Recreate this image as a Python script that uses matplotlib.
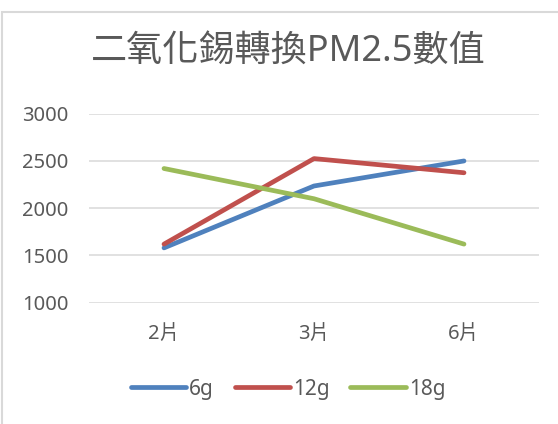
import matplotlib
matplotlib.use("Agg")
import matplotlib.pyplot as plt
from matplotlib.patches import Rectangle

#-------------------------------------------------------------
# data
categories = ["2片", "3片", "6片"]
series_names = ["6g", "12g", "18g"]
vals_6g = [1580, 2235, 2500]
vals_12g = [1620, 2525, 2375]
vals_18g = [2420, 2100, 1620]
yticks = [1000, 1500, 2000, 2500, 3000]
title = "二氧化錫轉換PM2.5數值"

colors = ["#4F81BD", "#C0504D", "#9BBB59"]
text_color = "#595959"
grid_color = "#D9D9D9"

plt.rcParams['font.family'] = ['Noto Sans', 'Noto Sans CJK TC', 'DejaVu Sans']

#-------------------------------------------------------------
W, H = 558, 424
fig = plt.figure(figsize=(W/100, H/100), dpi=100)
# plot area in pixels: x 89..539, y 113.7..302.7
ax = fig.add_axes([89/W, 1 - 302.7/H, 450/W, 189/H])

# chart frame (top and left edge visible)
fig.patches.append(Rectangle((1.5/W, -0.1), 1.2, 1 - 11.5/H + 0.1,
                             transform=fig.transFigure, fill=False,
                             edgecolor=grid_color, linewidth=1.5))

x = range(len(categories))
for name, vals, c in zip(series_names, [vals_6g, vals_12g, vals_18g], colors):
    ax.plot(x, vals, color=c, linewidth=3.4, solid_capstyle='round',
            solid_joinstyle='round', label=name, zorder=3)

ax.set_xlim(-0.5, len(categories) - 0.5)
ax.set_ylim(1000, 3000)
ax.set_yticks(yticks)
ax.set_xticks(list(x))
ax.set_xticklabels(categories)
ax.yaxis.grid(True, color=grid_color, linewidth=1.1)
ax.set_axisbelow(True)
for s in ax.spines.values():
    s.set_visible(False)
ax.tick_params(axis='both', length=0, labelsize=14.5, colors=text_color)
ax.tick_params(axis='y', pad=15)
ax.tick_params(axis='x', pad=16)

fig.text(288/W, 1 - 53/H, title, ha='center', va='center',
         fontsize=26, color=text_color)

leg = fig.legend(loc='center', bbox_to_anchor=(288/W, 1 - 389/H), ncol=3,
                 frameon=False, fontsize=15, handlelength=2.65,
                 handletextpad=0.15, columnspacing=1.0, labelcolor=text_color)

fig.savefig("out.png", dpi=100, facecolor="white")
#-------------------------------------------------------------
